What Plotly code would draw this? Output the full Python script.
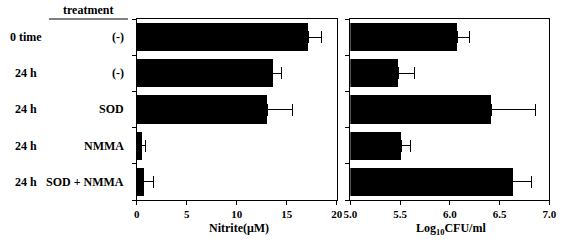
import plotly.graph_objects as go

times = ["0 time", "24 h", "24 h", "24 h", "24 h"]
treatments = ["(-)", "(-)", "SOD", "NMMA", "SOD + NMMA"]
nitrite = [17.15, 13.6, 13.05, 0.5, 0.65]
nitrite_err = [1.3, 0.88, 2.55, 0.42, 1.07]
cfu = [6.08, 5.48, 6.42, 5.51, 6.635]
cfu_err = [0.115, 0.17, 0.44, 0.09, 0.185]
nitrite_ticks = [0, 5, 10, 15, 20]
cfu_ticks = [5.0, 5.5, 6.0, 6.5, 7.0]

W, H = 568, 247
FONT = "Liberation Serif"
ypos = list(range(len(treatments)))

fig = go.Figure()
fig.add_trace(go.Bar(
    x=nitrite, y=ypos, orientation="h", xaxis="x", yaxis="y",
    marker=dict(color="black", line=dict(width=0)), width=0.78,
    error_x=dict(type="data", array=nitrite_err, arrayminus=[0]*5, symmetric=False,
                 color="black", thickness=1, width=6),
    showlegend=False))
fig.add_trace(go.Bar(
    x=[v - 5.0 for v in cfu], base=5.0, y=ypos, orientation="h", xaxis="x2", yaxis="y2",
    marker=dict(color="black", line=dict(width=0)), width=0.78,
    error_x=dict(type="data", array=cfu_err, arrayminus=[0]*5, symmetric=False,
                 color="black", thickness=1, width=6),
    showlegend=False))

ytop = 1 - 19 / H
ybot = 1 - 200 / H
tickfont = dict(family=FONT, size=11, color="black", weight="bold")
common_x = dict(showline=True, linecolor="black", linewidth=1, mirror=True,
                ticks="outside", ticklen=4, tickcolor="black", showgrid=False,
                zeroline=False, tickfont=tickfont)
common_y = dict(showline=True, linecolor="black", linewidth=1, mirror=True,
                ticks="outside", ticklen=4, tickcolor="black", showgrid=False,
                zeroline=False, range=[4.5, -0.5],
                tickvals=[-0.5, 0.5, 1.5, 2.5, 3.5, 4.5], showticklabels=False,
                domain=[ybot, ytop])

fig.update_layout(
    width=W, height=H, margin=dict(l=0, r=0, t=0, b=0),
    paper_bgcolor="white", plot_bgcolor="white", bargap=0,
    xaxis=dict(common_x, domain=[133 / W, 338 / W], range=[0, 20],
               tickvals=nitrite_ticks, anchor="y"),
    yaxis=dict(common_y, anchor="x"),
    xaxis2=dict(common_x, domain=[352 / W, 556 / W], range=[5.0, 7.0],
                tickvals=cfu_ticks, ticktext=[f"{t:.1f}" for t in cfu_ticks], anchor="y2"),
    yaxis2=dict(common_y, anchor="x2"),
)

lab_font = dict(family=FONT, size=12, color="black", weight="bold")
fig.add_annotation(x=238 / W, y=1 - 228 / H, xref="paper", yref="paper", text="Nitrite(μM)",
                   showarrow=False, xanchor="center", yanchor="middle", font=lab_font)
fig.add_annotation(x=455 / W, y=1 - 229 / H, xref="paper", yref="paper", text="Log<sub>10</sub>CFU/ml",
                   showarrow=False, xanchor="center", yanchor="middle", font=lab_font)

for i, (t, tr) in enumerate(zip(times, treatments)):
    fig.add_annotation(x=19 / W, y=i, xref="paper", yref="y", text=t, showarrow=False,
                       xanchor="center", yanchor="middle", font=lab_font)
    fig.add_annotation(x=122 / W, y=i, xref="paper", yref="y", text=tr, showarrow=False,
                       xanchor="right", yanchor="middle", font=lab_font)

fig.add_annotation(x=83 / W, y=1 - 10 / H, xref="paper", yref="paper", text="treatment",
                   showarrow=False, xanchor="center", yanchor="middle", font=lab_font)
fig.add_shape(type="line", xref="paper", yref="paper", x0=43 / W, x1=124 / W,
              y0=1 - 19 / H, y1=1 - 19 / H, line=dict(color="black", width=1))

fig.write_html("out.html")
